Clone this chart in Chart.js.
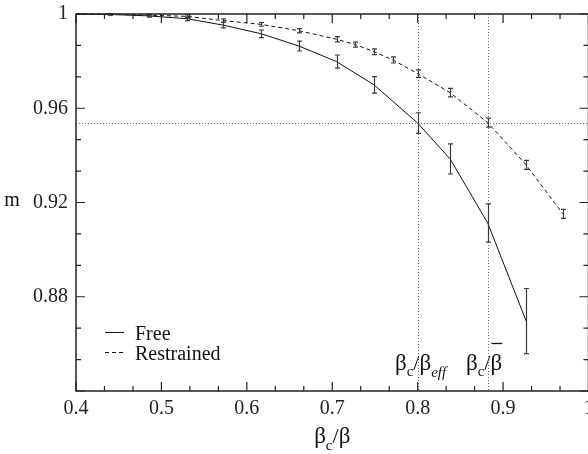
<!DOCTYPE html>
<html><head><meta charset="utf-8">
<script src="https://cdn.jsdelivr.net/npm/chart.js@4"></script>
<style>html,body{margin:0;padding:0;overflow:hidden;background:#fff;width:588px;height:454px}#c{display:block}</style>
</head><body>
<canvas id="c" width="600" height="454" style="width:600px;height:454px"></canvas>
<script>
// ---- data ----
const freeX   = [0.44, 0.485, 0.53, 0.572, 0.617, 0.661, 0.705, 0.749, 0.80, 0.838, 0.882, 0.927];
const freeM   = [0.9998, 0.9992, 0.9980, 0.9953, 0.9916, 0.9864, 0.9798, 0.9699, 0.9537, 0.9385, 0.9113, 0.8697];
const freeErr = [0.0003, 0.0005, 0.0008, 0.0012, 0.0016, 0.0021, 0.0028, 0.0035, 0.0044, 0.0064, 0.0081, 0.0138];
const restX   = [0.44, 0.485, 0.53, 0.572, 0.617, 0.661, 0.705, 0.727, 0.749, 0.771, 0.80, 0.838, 0.882, 0.927, 0.97];
const restM   = [0.9999, 0.9995, 0.9990, 0.9972, 0.9956, 0.9929, 0.9893, 0.9870, 0.9840, 0.9805, 0.9747, 0.9666, 0.9539, 0.9360, 0.9152];
const restErr = [0.0003, 0.0004, 0.0006, 0.0007, 0.0008, 0.0009, 0.0011, 0.0011, 0.0012, 0.0013, 0.0016, 0.0018, 0.0019, 0.0019, 0.0019];
const curveStartX = 0.4, curveStartM = 1.0;
const seriesNames = ['Free', 'Restrained'];
const refM = [0.9538];          // horizontal dotted reference
const refX = [0.8, 0.882];      // vertical dotted references
const xMin = 0.4, xMax = 1.0, xStep = 0.1;
const yMin = 0.84, yMax = 1.0, yStep = 0.04;
const hiddenYLabels = [0.84];

const SERIF = "'Liberation Serif', 'Times New Roman', serif";
const fmt = v => String(Number(v.toFixed(3)));

function pts(xs, ys){ return [{x:curveStartX, y:curveStartM}].concat(xs.map((x,i)=>({x, y:ys[i]}))); }

const deco = {
  id:'deco',
  beforeDatasetsDraw(chart){
    const {ctx, chartArea:a, scales:{x,y}} = chart;
    ctx.save();
    ctx.strokeStyle = '#6a6a6a'; ctx.lineWidth = 1; ctx.setLineDash([1,2]);
    refM.forEach(v=>{const py=Math.round(y.getPixelForValue(v))+0.5; ctx.beginPath(); ctx.moveTo(a.left,py); ctx.lineTo(a.right,py); ctx.stroke();});
    refX.forEach(v=>{const px=Math.round(x.getPixelForValue(v))+0.5; ctx.beginPath(); ctx.moveTo(px,a.top); ctx.lineTo(px,a.bottom); ctx.stroke();});
    ctx.restore();
  },
  afterDatasetsDraw(chart){
    const {ctx, chartArea:a, scales:{x,y}} = chart;
    ctx.save();
    // error bars
    const bars = (xs, ms, es) => {
      ctx.strokeStyle = '#3a3a3a'; ctx.lineWidth = 1.2; ctx.setLineDash([]);
      xs.forEach((xv,i)=>{
        const px = Math.round(x.getPixelForValue(xv))+0.5;
        const t = y.getPixelForValue(ms[i]+es[i]), b = y.getPixelForValue(ms[i]-es[i]);
        ctx.beginPath(); ctx.moveTo(px,t); ctx.lineTo(px,b);
        ctx.moveTo(px-2.5,t); ctx.lineTo(px+2.5,t);
        ctx.moveTo(px-2.5,b); ctx.lineTo(px+2.5,b); ctx.stroke();
      });
    };
    bars(freeX, freeM, freeErr);
    bars(restX, restM, restErr);
    // frame
    ctx.strokeStyle = '#222'; ctx.lineWidth = 1.5; ctx.setLineDash([]);
    ctx.strokeRect(a.left, a.top, a.right-a.left, a.bottom-a.top);
    // ticks (inward, all four sides)
    ctx.lineWidth = 1.2;
    const xt = x.ticks.map(t=>t.value), yt = y.ticks.map(t=>t.value);
    const tickX = (v, len) => { const p=x.getPixelForValue(v); ctx.beginPath(); ctx.moveTo(p,a.bottom); ctx.lineTo(p,a.bottom-len); ctx.moveTo(p,a.top); ctx.lineTo(p,a.top+len); ctx.stroke(); };
    const tickY = (v, len) => { const p=y.getPixelForValue(v); ctx.beginPath(); ctx.moveTo(a.left,p); ctx.lineTo(a.left+len,p); ctx.moveTo(a.right,p); ctx.lineTo(a.right-len,p); ctx.stroke(); };
    xt.forEach((v,i)=>{ tickX(v,9); if(i<xt.length-1){ const d=(xt[i+1]-v)/3; tickX(v+d,5); tickX(v+2*d,5);} });
    yt.forEach((v,i)=>{ tickY(v,9); if(i<yt.length-1){ const d=(yt[i+1]-v)/3; tickY(v+d,5); tickY(v+2*d,5);} });
    // legend
    ctx.fillStyle = '#111'; ctx.strokeStyle = '#111'; ctx.lineWidth = 1;
    ctx.font = '20px ' + SERIF; ctx.textBaseline = 'alphabetic'; ctx.textAlign = 'left';
    ctx.beginPath(); ctx.moveTo(105,332.5); ctx.lineTo(124,332.5); ctx.stroke();
    ctx.setLineDash([4,3]); ctx.beginPath(); ctx.moveTo(105,352.5); ctx.lineTo(124,352.5); ctx.stroke(); ctx.setLineDash([]);
    ctx.fillText(seriesNames[0], 135, 340);
    ctx.fillText(seriesNames[1], 135, 360);
    // rich text helper
    const rich = (x0, base, segs) => {
      let cx = x0; const pos = [];
      segs.forEach(s=>{
        ctx.font = (s.it?'italic ':'') + s.size + 'px ' + SERIF;
        const w = ctx.measureText(s.t).width;
        ctx.fillText(s.t, cx, base + (s.dy||0));
        pos.push([cx, w]); cx += w + (s.gap||0);
      });
      return pos;
    };
    rich(395, 370, [{t:'β',size:23},{t:'c',size:15,dy:6},{t:'/',size:22},{t:'β',size:23},{t:'eff',size:15,dy:7,it:true}]);
    const p2 = rich(466, 370, [{t:'β',size:23},{t:'c',size:15,dy:6},{t:'/',size:22},{t:'β',size:23}]);
    ctx.lineWidth = 1.3; ctx.beginPath(); ctx.moveTo(p2[3][0]+1, 343.5); ctx.lineTo(p2[3][0]+p2[3][1], 343.5); ctx.stroke();
    // axis titles
    const tw = (()=>{ let w=0; ctx.font='23px '+SERIF; w+=ctx.measureText('β').width*2; ctx.font='22px '+SERIF; w+=ctx.measureText('/').width; ctx.font='15px '+SERIF; w+=ctx.measureText('c').width; return w; })();
    rich((a.left+a.right)/2 - tw/2, 443, [{t:'β',size:23},{t:'c',size:15,dy:7},{t:'/',size:22},{t:'β',size:23}]);
    ctx.font = '20px ' + SERIF; ctx.textAlign = 'center'; ctx.textBaseline = 'middle';
    ctx.fillText('m', 12, y.getPixelForValue((yMin+yMax)/2) - 2);
    ctx.restore();
  }
};

new Chart(document.getElementById('c'), {
  type: 'scatter',
  data: { datasets: [
    { label: seriesNames[0], data: pts(freeX, freeM), showLine: true, borderColor: '#111', borderWidth: 1, pointRadius: 0, tension: 0, clip: false },
    { label: seriesNames[1], data: pts(restX, restM), showLine: true, borderColor: '#111', borderWidth: 1, borderDash: [4,3], pointRadius: 0, tension: 0, clip: false }
  ]},
  options: {
    responsive: false, animation: false, devicePixelRatio: 1,
    layout: { padding: { left: 0, right: 11.5, top: 14, bottom: 0 } },
    plugins: { legend: { display: false }, tooltip: { enabled: false } },
    scales: {
      x: { type: 'linear', min: xMin, max: xMax,
           ticks: { stepSize: xStep, color: '#222', font: { family: SERIF, size: 20 }, padding: 6, maxRotation: 0, callback: v => fmt(v) },
           grid: { display: false, drawTicks: false }, border: { display: false },
           afterFit: s => { s.height = 63; s.paddingLeft = 0; s.paddingRight = 0; } },
      y: { type: 'linear', min: yMin, max: yMax,
           ticks: { stepSize: yStep, color: '#222', font: { family: SERIF, size: 20 }, padding: 8,
                    callback: v => hiddenYLabels.some(h=>Math.abs(h-v)<1e-6) ? '' : fmt(v) },
           grid: { display: false, drawTicks: false }, border: { display: false },
           afterFit: s => { s.width = 76; s.paddingTop = 0; s.paddingBottom = 0; } }
    }
  },
  plugins: [deco]
});
</script>
</body></html>
